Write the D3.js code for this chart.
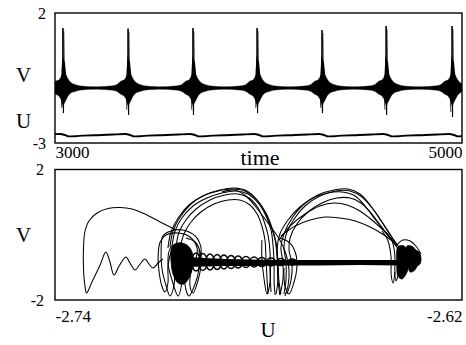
<!DOCTYPE html>
<html><head><meta charset="utf-8">
<script src="https://cdn.jsdelivr.net/npm/d3@7"></script>
<style>
body{margin:0;background:#fff;font-family:'Liberation Serif';}
#wrap{position:relative;width:466px;height:345px;}
#chart{position:absolute;left:0;top:0;display:block;}
.title{position:absolute;font-family:'Liberation Serif';color:#000;white-space:nowrap;}
.t21{font-size:21px;line-height:21px;}
.t22{font-size:22px;line-height:22px;}
.mid{transform:translateX(-50%);}
</style></head><body>
<div id="wrap">
<svg id="chart" width="466" height="345"></svg>
<div class="title t21" style="left:16px;top:65.4px">V</div>
<div class="title t21" style="left:16px;top:111.4px">U</div>
<div class="title t22 mid" style="left:260px;top:146.6px">time</div>
<div class="title t21" style="left:16px;top:225.4px">V</div>
<div class="title t21 mid" style="left:268px;top:320.4px">U</div>
</div>
<script>
// ---- upper panel: V(t) bursts and U(t) ----
const timeTicks = [3000, 5000];
const vTicksTop = [-3, 2];
const burstTimes = [3039, 3359, 3678, 3993, 4312, 4627, 4951];
const spikeTop = [1.42, 1.40, 1.42, 1.42, 1.35, 1.50, 1.50];
const spikeBottom = [-1.85, -1.92, -1.92, -1.85, -1.85, -1.92, -2.0];
// envelope of the fast oscillation around each burst (offset in time units)
const envOffsets = [-147, -88, -59, -34, -20, -10, -5, 5, 15, 25, 39, 59, 88, 147];
const envUpper = [-0.835, -0.808, -0.769, -0.615, -0.577, -0.462, -0.385, -0.231, -0.385, -0.538, -0.673, -0.75, -0.808, -0.835];
const envLower = [-0.935, -0.962, -1.0, -1.135, -1.192, -1.308, -1.365, -1.462, -1.346, -1.192, -1.077, -1.019, -0.962, -0.935];
// slow variable U around each burst
const uOffsets = [-150, -74, -15, 10, 29, 59, 98, 150];
const uValues = [-2.700, -2.672, -2.656, -2.692, -2.745, -2.738, -2.716, -2.700];

// ---- lower panel: phase portrait (U, V) ----
const uTicks = [-2.74, -2.62];
const vTicksBottom = [-2, 2];
const transient = [[-2.7043,0.146],[-2.7090,0.391],[-2.7135,0.636],[-2.7173,0.789],[-2.7208,0.835],[-2.7244,0.805],[-2.7276,0.667],[-2.7300,0.421],[-2.7312,0.084],[-2.7316,-0.406],[-2.7316,-1.019],[-2.7312,-1.540],[-2.7307,-1.785],[-2.7291,-1.448],[-2.7267,-0.927],[-2.7250,-0.529],[-2.7238,-0.835],[-2.7226,-1.234],[-2.7211,-0.958],[-2.7191,-0.682],[-2.7179,-0.866],[-2.7164,-1.080],[-2.7149,-0.897],[-2.7135,-0.743],[-2.7123,-0.897],[-2.7111,-1.019],[-2.7096,-0.866],[-2.7082,-0.743]];
const archA1 = [[-2.7067,-0.406],[-2.7058,0.084],[-2.7037,0.513],[-2.7005,0.912],[-2.6964,1.188],[-2.6919,1.341],[-2.6878,1.402],[-2.6840,1.341],[-2.6807,1.096],[-2.6781,0.697],[-2.6763,0.268],[-2.6751,-0.161],[-2.6745,-0.713],[-2.6743,-1.326],[-2.6737,-1.847]];
const archA2 = [[-2.7055,-0.345],[-2.7046,0.115],[-2.7026,0.513],[-2.6993,0.881],[-2.6952,1.126],[-2.6908,1.280],[-2.6866,1.341],[-2.6831,1.249],[-2.6801,0.973],[-2.6778,0.575],[-2.6763,0.146],[-2.6757,-0.345],[-2.6754,-0.897],[-2.6754,-1.448],[-2.6751,-1.847]];
const archA3 = [[-2.7043,-0.345],[-2.7034,0.084],[-2.7014,0.452],[-2.6984,0.789],[-2.6943,1.065],[-2.6899,1.218],[-2.6860,1.249],[-2.6828,1.126],[-2.6801,0.820],[-2.6784,0.421],[-2.6772,-0.008],[-2.6766,-0.529],[-2.6766,-1.142],[-2.6763,-1.755]];
const archA4 = [[-2.7031,-0.406],[-2.7020,0.023],[-2.6999,0.391],[-2.6970,0.697],[-2.6931,0.943],[-2.6890,1.065],[-2.6855,1.065],[-2.6825,0.912],[-2.6804,0.636],[-2.6790,0.268],[-2.6781,-0.161],[-2.6778,-0.713],[-2.6775,-1.326],[-2.6772,-1.816]];
const archA5 = [[-2.6908,1.310],[-2.6872,1.372],[-2.6837,1.188],[-2.6801,0.759],[-2.6766,0.268],[-2.6737,-0.161],[-2.6719,-0.590],[-2.6710,-1.080],[-2.6713,-1.571],[-2.6722,-1.877]];
const archA6 = [[-2.7061,-0.375],[-2.7052,0.115],[-2.7031,0.544],[-2.6999,0.943],[-2.6958,1.218],[-2.6914,1.372],[-2.6872,1.433],[-2.6834,1.341],[-2.6804,1.065],[-2.6778,0.667],[-2.6760,0.207],[-2.6748,-0.253],[-2.6743,-0.774],[-2.6740,-1.387],[-2.6734,-1.816]];
const archB1 = [[-2.6737,-1.847],[-2.6728,-1.387],[-2.6728,-0.835],[-2.6734,-0.406],[-2.6725,0.023],[-2.6701,0.513],[-2.6669,0.912],[-2.6625,1.218],[-2.6577,1.372],[-2.6536,1.402],[-2.6501,1.249],[-2.6471,0.912],[-2.6442,0.483],[-2.6415,0.054],[-2.6395,-0.253],[-2.6377,-0.467]];
const archB2 = [[-2.6748,-1.816],[-2.6743,-1.448],[-2.6743,-0.897],[-2.6745,-0.406],[-2.6737,0.023],[-2.6713,0.452],[-2.6681,0.820],[-2.6639,1.126],[-2.6595,1.280],[-2.6554,1.310],[-2.6515,1.188],[-2.6486,0.881],[-2.6457,0.483],[-2.6427,0.084],[-2.6403,-0.222],[-2.6386,-0.467]];
const archB3 = [[-2.6716,-1.816],[-2.6704,-1.387],[-2.6701,-0.897],[-2.6710,-0.467],[-2.6707,-0.100],[-2.6687,0.330],[-2.6654,0.697],[-2.6613,0.973],[-2.6569,1.126],[-2.6530,1.126],[-2.6498,0.973],[-2.6468,0.667],[-2.6439,0.268],[-2.6412,-0.100],[-2.6392,-0.375]];
const archB4 = [[-2.6740,-0.161],[-2.6707,0.268],[-2.6663,0.636],[-2.6619,0.881],[-2.6577,0.973],[-2.6539,0.912],[-2.6501,0.728],[-2.6462,0.421],[-2.6424,0.054],[-2.6395,-0.284]];
const archB5 = [[-2.6734,-0.038],[-2.6692,0.268],[-2.6648,0.452],[-2.6604,0.544],[-2.6560,0.513],[-2.6515,0.421],[-2.6471,0.238],[-2.6430,-0.008],[-2.6395,-0.284]];
const archB6 = [[-2.6725,-1.816],[-2.6719,-1.387],[-2.6719,-0.835],[-2.6725,-0.406],[-2.6719,-0.008],[-2.6695,0.483],[-2.6663,0.881],[-2.6619,1.188],[-2.6572,1.341],[-2.6530,1.341],[-2.6495,1.157],[-2.6465,0.820],[-2.6436,0.391],[-2.6409,-0.038],[-2.6389,-0.345]];
const loopH1 = [[-2.6790,-0.161],[-2.6790,-0.713],[-2.6784,-1.326],[-2.6775,-1.816],[-2.6766,-1.448],[-2.6766,-0.835]];
const loopH2 = [[-2.6737,-0.100],[-2.6707,-0.253],[-2.6690,-0.590],[-2.6687,-1.019],[-2.6695,-1.448],[-2.6710,-1.816],[-2.6722,-1.571],[-2.6725,-1.019]];
const loopC1 = [[-2.6987,-0.835],[-2.6981,-0.406],[-2.7002,-0.069],[-2.7037,0.054],[-2.7073,-0.008],[-2.7090,-0.222],[-2.7096,-0.651],[-2.7093,-1.142],[-2.7085,-1.571],[-2.7076,-1.755],[-2.7067,-1.479],[-2.7067,-0.958],[-2.7058,-0.529]];
const loopC2 = [[-2.6972,-0.835],[-2.6970,-0.375],[-2.6987,-0.038],[-2.7023,0.146],[-2.7058,0.115],[-2.7082,-0.038],[-2.7087,-0.406],[-2.7085,-1.019],[-2.7073,-1.540],[-2.7061,-1.877],[-2.7049,-1.540],[-2.7046,-0.927],[-2.7037,-0.467]];
const loopC3 = [[-2.6996,-0.835],[-2.7005,-0.467],[-2.7031,-0.253],[-2.7058,-0.375],[-2.7067,-0.835],[-2.7055,-1.387],[-2.7037,-1.877],[-2.7026,-1.479],[-2.7023,-0.835]];
const loopC4 = [[-2.6975,-0.467],[-2.6975,-1.019],[-2.6987,-1.510],[-2.7005,-1.877],[-2.7017,-1.510],[-2.7014,-0.897],[-2.7002,-0.467]];
const loopC5 = [[-2.7014,-0.100],[-2.6987,-0.222],[-2.6972,-0.529],[-2.6970,-0.958],[-2.6978,-1.387],[-2.6993,-1.785],[-2.7002,-1.571],[-2.6999,-1.080]];
const loopR1 = [[-2.6424,0.084],[-2.6406,-0.192],[-2.6398,-0.621],[-2.6398,-1.080],[-2.6395,-1.418],[-2.6386,-1.142],[-2.6383,-0.651]];
const loopR2 = [[-2.6436,0.115],[-2.6418,-0.192],[-2.6409,-0.713],[-2.6409,-1.203],[-2.6403,-1.479],[-2.6398,-1.142]];
const loopR3 = [[-2.6395,-0.345],[-2.6374,-0.161],[-2.6353,-0.192],[-2.6336,-0.345],[-2.6321,-0.590]];
// dense regions, outlined
const coreLeft = [[-2.7055,-0.375],[-2.7034,-0.253],[-2.7011,-0.314],[-2.6996,-0.529],[-2.6993,-0.897],[-2.7002,-1.264],[-2.7020,-1.510],[-2.7037,-1.479],[-2.7052,-1.203],[-2.7058,-0.774]];
const lobe1 = [[-2.6389,-0.375],[-2.6371,-0.345],[-2.6359,-0.529],[-2.6356,-0.835],[-2.6362,-1.142],[-2.6377,-1.356],[-2.6389,-1.264],[-2.6392,-0.835]];
const lobe2 = [[-2.6362,-0.345],[-2.6344,-0.375],[-2.6333,-0.590],[-2.6330,-0.835],[-2.6339,-1.080],[-2.6353,-1.142],[-2.6359,-0.835]];
const lobe3 = [[-2.6341,-0.467],[-2.6327,-0.529],[-2.6321,-0.713],[-2.6324,-0.897],[-2.6336,-0.958],[-2.6341,-0.713]];
// slow drift band from the left cluster to the right lobes
const bandU = [-2.7008, -2.6958, -2.6899, -2.6825, -2.6737, -2.6619, -2.6501, -2.6383, -2.6330];
const bandUpper = [-0.682, -0.713, -0.743, -0.759, -0.774, -0.774, -0.774, -0.774, -0.774];
const bandLower = [-0.988, -0.973, -0.958, -0.958, -0.943, -0.943, -0.927, -0.943, -0.943];
// small decaying loops riding on the band
const bandLoopU = [-2.6984, -2.6964, -2.6943, -2.6922, -2.6902, -2.6881, -2.6860, -2.6837, -2.6813, -2.6790, -2.6763, -2.6734, -2.6701];
const bandLoopHalf = [0.276, 0.261, 0.245, 0.230, 0.215, 0.199, 0.184, 0.169, 0.153, 0.138, 0.123, 0.107, 0.092];

const FONT = "Liberation Serif";
const svg = d3.select("#chart");
const left = 55, right = 462;
const top1 = 13, bot1 = 143, top2 = 169.5, bot2 = 300;

const x1 = d3.scaleLinear().domain([3000, 5000]).range([left, right]);
const y1 = d3.scaleLinear().domain([-3, 2]).range([bot1, top1]);
const x2 = d3.scaleLinear().domain([-2.74, -2.62]).range([left, right]);
const y2 = d3.scaleLinear().domain([-2, 2]).range([bot2, top2]);

const defs = svg.append("defs");
defs.append("clipPath").attr("id", "clipTop").append("rect")
  .attr("x", left).attr("y", top1).attr("width", right - left).attr("height", bot1 - top1);
defs.append("clipPath").attr("id", "clipBot").append("rect")
  .attr("x", left).attr("y", top2).attr("width", right - left).attr("height", bot2 - top2);

// ---------- top panel ----------
const gTop = svg.append("g").attr("clip-path", "url(#clipTop)");

const envPts = [];
burstTimes.forEach(t => envOffsets.forEach((o, i) => envPts.push({t: t + o, hi: envUpper[i], lo: envLower[i]})));
envPts.sort((a, b) => a.t - b.t);

gTop.append("path").datum(envPts)
  .attr("fill", "#000").attr("stroke", "#000").attr("stroke-width", 0.4)
  .attr("d", d3.area().x(d => x1(d.t)).y0(d => y1(d.lo)).y1(d => y1(d.hi)).curve(d3.curveMonotoneX));

burstTimes.forEach((t, i) => {
  const cx = x1(t);
  // upward spike
  gTop.append("line").attr("x1", cx).attr("x2", cx).attr("y1", y1(-0.4)).attr("y2", y1(spikeTop[i]))
    .attr("stroke", "#000").attr("stroke-width", 1.6);
  gTop.append("line").attr("x1", cx + 1.3).attr("x2", cx + 0.8).attr("y1", y1(-0.3)).attr("y2", y1(spikeTop[i] - 0.12))
    .attr("stroke", "#000").attr("stroke-width", 0.9);
  gTop.append("path")
    .attr("d", `M${cx - 1.8},${y1(-0.5)} L${cx - 0.6},${y1(0.35)} L${cx + 2},${y1(0.1)} L${cx + 3.5},${y1(-0.5)} Z`)
    .attr("fill", "#000");
  // downward spike
  gTop.append("line").attr("x1", cx + 0.5).attr("x2", cx + 0.5).attr("y1", y1(-1.3)).attr("y2", y1(spikeBottom[i]))
    .attr("stroke", "#000").attr("stroke-width", 1.2);
  gTop.append("line").attr("x1", cx - 1.5).attr("x2", cx - 1.2).attr("y1", y1(-1.3)).attr("y2", y1(spikeBottom[i] + 0.2))
    .attr("stroke", "#000").attr("stroke-width", 0.8);
  gTop.append("path")
    .attr("d", `M${cx - 2.2},${y1(-1.3)} L${cx + 0.3},${y1(-1.65)} L${cx + 2.6},${y1(-1.3)} Z`)
    .attr("fill", "#000");
});

const uPts = [];
burstTimes.forEach(t => uOffsets.forEach((o, i) => uPts.push({t: t + o, u: uValues[i]})));
uPts.sort((a, b) => a.t - b.t);
gTop.append("path").datum(uPts)
  .attr("fill", "none").attr("stroke", "#000").attr("stroke-width", 1.9)
  .attr("d", d3.line().x(d => x1(d.t)).y(d => y1(d.u)).curve(d3.curveMonotoneX));

svg.append("rect").attr("x", left).attr("y", top1).attr("width", right - left).attr("height", bot1 - top1)
  .attr("fill", "none").attr("stroke", "#000").attr("stroke-width", 1.4);

// ---------- bottom panel ----------
const gBot = svg.append("g").attr("clip-path", "url(#clipBot)");
const pline = d3.line().x(d => x2(d[0])).y(d => y2(d[1])).curve(d3.curveCatmullRom.alpha(0.5));
const pclosed = d3.line().x(d => x2(d[0])).y(d => y2(d[1])).curve(d3.curveCatmullRomClosed.alpha(0.5));

const bandPts = bandU.map((u, i) => ({u, hi: bandUpper[i], lo: bandLower[i]}));
gBot.append("path").datum(bandPts)
  .attr("fill", "#000")
  .attr("d", d3.area().x(d => x2(d.u)).y0(d => y2(d.lo)).y1(d => y2(d.hi)).curve(d3.curveMonotoneX));

gBot.selectAll("ellipse.bandloop").data(bandLoopU).join("ellipse")
  .attr("class", "bandloop")
  .attr("cx", d => x2(d)).attr("cy", y2(-0.835))
  .attr("rx", 4.2).attr("ry", (d, i) => y2(-bandLoopHalf[i]) - y2(0))
  .attr("fill", "none").attr("stroke", "#000").attr("stroke-width", 1.5);

[coreLeft, lobe1, lobe2, lobe3].forEach(shape => {
  gBot.append("path").datum(shape).attr("fill", "#000").attr("stroke", "#000").attr("stroke-width", 0.8).attr("d", pclosed);
});

const strands = [transient, archA1, archA2, archA3, archA4, archA5, archA6, archB1, archB2, archB3, archB4, archB5, archB6,
  loopH1, loopH2, loopC1, loopC2, loopC3, loopC4, loopC5, loopR1, loopR2, loopR3];
strands.forEach(s => {
  gBot.append("path").datum(s).attr("fill", "none").attr("stroke", "#000").attr("stroke-width", 1.05).attr("d", pline);
});

svg.append("rect").attr("x", left).attr("y", top2).attr("width", right - left).attr("height", bot2 - top2)
  .attr("fill", "none").attr("stroke", "#000").attr("stroke-width", 1.4);

// ---------- tick labels ----------
const fmt = d => String(d);
function styleAxis(g, size) {
  g.attr("font-family", FONT).attr("font-size", size);
  g.select(".domain").remove();
  g.selectAll(".tick line").remove();
  g.selectAll("text").attr("fill", "#000").attr("font-family", FONT).attr("font-size", size);
}

svg.append("g").attr("transform", `translate(${left},0)`)
  .call(d3.axisLeft(y1).tickValues(vTicksTop).tickFormat(fmt).tickSize(0).tickPadding(9))
  .call(g => styleAxis(g, 16));

svg.append("g").attr("transform", `translate(0,${bot1})`)
  .call(d3.axisBottom(x1).tickValues(timeTicks).tickFormat(fmt).tickSize(0).tickPadding(3))
  .call(g => styleAxis(g, 17))
  .call(g => g.selectAll("text").attr("text-anchor", (d, i) => i === 0 ? "start" : "end"));

svg.append("g").attr("transform", `translate(${left},0)`)
  .call(d3.axisLeft(y2).tickValues(vTicksBottom).tickFormat(fmt).tickSize(0).tickPadding(11))
  .call(g => styleAxis(g, 16));

svg.append("g").attr("transform", `translate(0,${bot2})`)
  .call(d3.axisBottom(x2).tickValues(uTicks).tickFormat(fmt).tickSize(0).tickPadding(10))
  .call(g => styleAxis(g, 17))
  .call(g => g.selectAll("text").attr("text-anchor", (d, i) => i === 0 ? "start" : "end"));
</script>
</body></html>
